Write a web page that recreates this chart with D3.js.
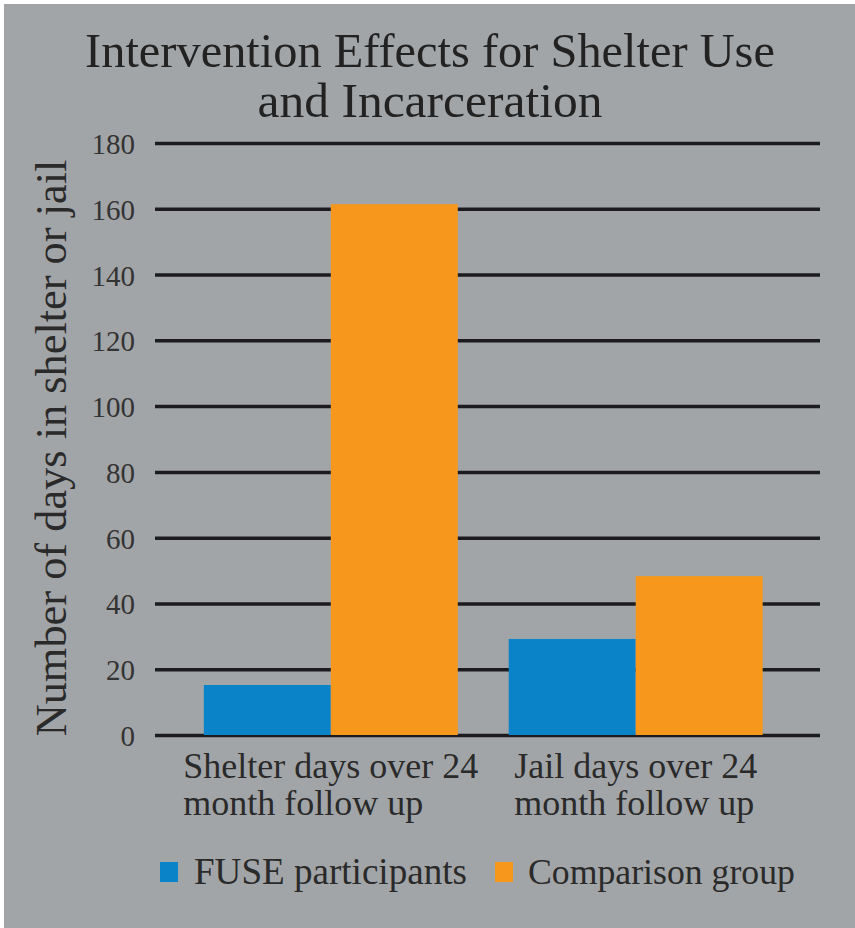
<!DOCTYPE html>
<html><head><meta charset="utf-8">
<script src="https://cdn.jsdelivr.net/npm/d3@7"></script>
<style>html,body{margin:0;padding:0;background:#fff;}svg{display:block;}</style>
</head><body>
<svg id="c" width="855" height="928"></svg>
<script>
const categories = [["Shelter days over 24","month follow up"],["Jail days over 24","month follow up"]];
const categoryKeys = ["shelter","jail"];
const seriesNames = ["FUSE participants","Comparison group"];
const fuseValues = [15.2, 29.2];
const comparisonValues = [161.4, 48.3];
const yTicks = [0,20,40,60,80,100,120,140,160,180];
const titleLines = ["Intervention Effects for Shelter Use","and Incarceration"];
const yLabel = "Number of days in shelter or jail";
const colors = ["#0a83c9","#f7981d"];

(function(){
function hasFont(name){
  const c = document.createElement("canvas").getContext("2d");
  const s = "mmmmmmmmmmlliiWWQ@#Intervention 0123";
  let differs = false;
  for (const base of ["monospace","sans-serif"]) {
    c.font = "40px " + base; const w0 = c.measureText(s).width;
    c.font = "40px '" + name + "', " + base; const w1 = c.measureText(s).width;
    if (Math.abs(w0-w1) > 0.5) differs = true; else return false;
  }
  return differs;
}
const cands = ["Liberation Serif","DejaVu Serif","Tinos","Times New Roman","Noto Serif","FreeSerif","Nimbus Roman","Century Schoolbook L","C059"];
const found = cands.find(hasFont);
const FONT = found ? `'${found}', serif` : "serif";
const svg = d3.select("#c");
svg.append("rect").attr("x",4).attr("y",4).attr("width",851).attr("height",924).attr("fill","#a2a5a8");

const mLeft = 155, mRight = 820, mTop = 143, mBottom = 735;
const y = d3.scaleLinear().domain([0,180]).range([mBottom, mTop]);
const x0 = d3.scaleBand().domain(categoryKeys).range([mLeft,mRight]).paddingInner(0.167).paddingOuter(0.174).align(0.46);
const x1 = d3.scaleBand().domain(seriesNames).range([0, x0.bandwidth()]);

function fit(sel, w){ const n=sel.node(); const L=n.getComputedTextLength(); const fs=parseFloat(sel.attr("font-size")); sel.attr("font-size", fs*w/L); }

titleLines.forEach((t,i)=>{
  const tx = svg.append("text").attr("x",430).attr("y", i===0?67:117).attr("text-anchor","middle")
   .style("font-family",FONT).attr("font-size",44).attr("fill","#222").text(t);
  fit(tx, i===0?690:345);
});

const yAxis = d3.axisLeft(y).tickValues(yTicks).tickSize(-(mRight-mLeft)).tickFormat(d3.format("d")).tickPadding(20);
const gA = svg.append("g").attr("transform",`translate(${mLeft},0)`).call(yAxis);
gA.select(".domain").remove();
gA.selectAll(".tick line").attr("stroke","#1c1c1f").attr("stroke-width",3.5);
gA.selectAll(".tick text").style("font-family",FONT).attr("font-size",29).attr("fill","#333").attr("dy","0.36em");

const groups = svg.append("g").selectAll("g").data(categoryKeys).join("g")
  .attr("transform", d=>`translate(${x0(d)},0)`);
groups.selectAll("rect").data((d,i)=>[{s:seriesNames[0],v:fuseValues[i]},{s:seriesNames[1],v:comparisonValues[i]}])
  .join("rect").attr("x",d=>x1(d.s)).attr("width",x1.bandwidth()).attr("y",d=>y(d.v)).attr("height",d=>y(0)-y(d.v))
  .attr("fill",(d,i)=>colors[i]);

let catFs = 30;
{
  const probe = svg.append("text").style("font-family",FONT).attr("font-size",30).text(categories[0][0]);
  catFs = 30*295/probe.node().getComputedTextLength();
  probe.remove();
}
categories.forEach((lines,i)=>{
  const cx = x0(categoryKeys[i]) + x0.bandwidth()/2;
  const ts = lines.map((l,j)=>svg.append("text").attr("y", 778+j*37).style("font-family",FONT).attr("font-size",catFs).attr("fill","#2a2a2a").text(l));
  const mw = d3.max(ts, t=>t.node().getComputedTextLength());
  ts.forEach(t=>t.attr("x", cx - mw/2));
});

const yl = svg.append("text").attr("transform","translate(66,448) rotate(-90)").attr("text-anchor","middle")
  .style("font-family",FONT).attr("font-size",38).attr("fill","#2a2a2a").text(yLabel);
fit(yl, 577);

const legX = [160, 495], legTextX=[194,528], legW=[273,267];
seriesNames.forEach((s,i)=>{
  svg.append("rect").attr("x",legX[i]).attr("y",862).attr("width",18).attr("height",20).attr("fill",colors[i]);
  const t = svg.append("text").attr("x",legTextX[i]).attr("y",884).style("font-family",FONT).attr("font-size",30).attr("fill","#2a2a2a").text(s);
  fit(t, legW[i]);
});
})();
</script>
</body></html>
